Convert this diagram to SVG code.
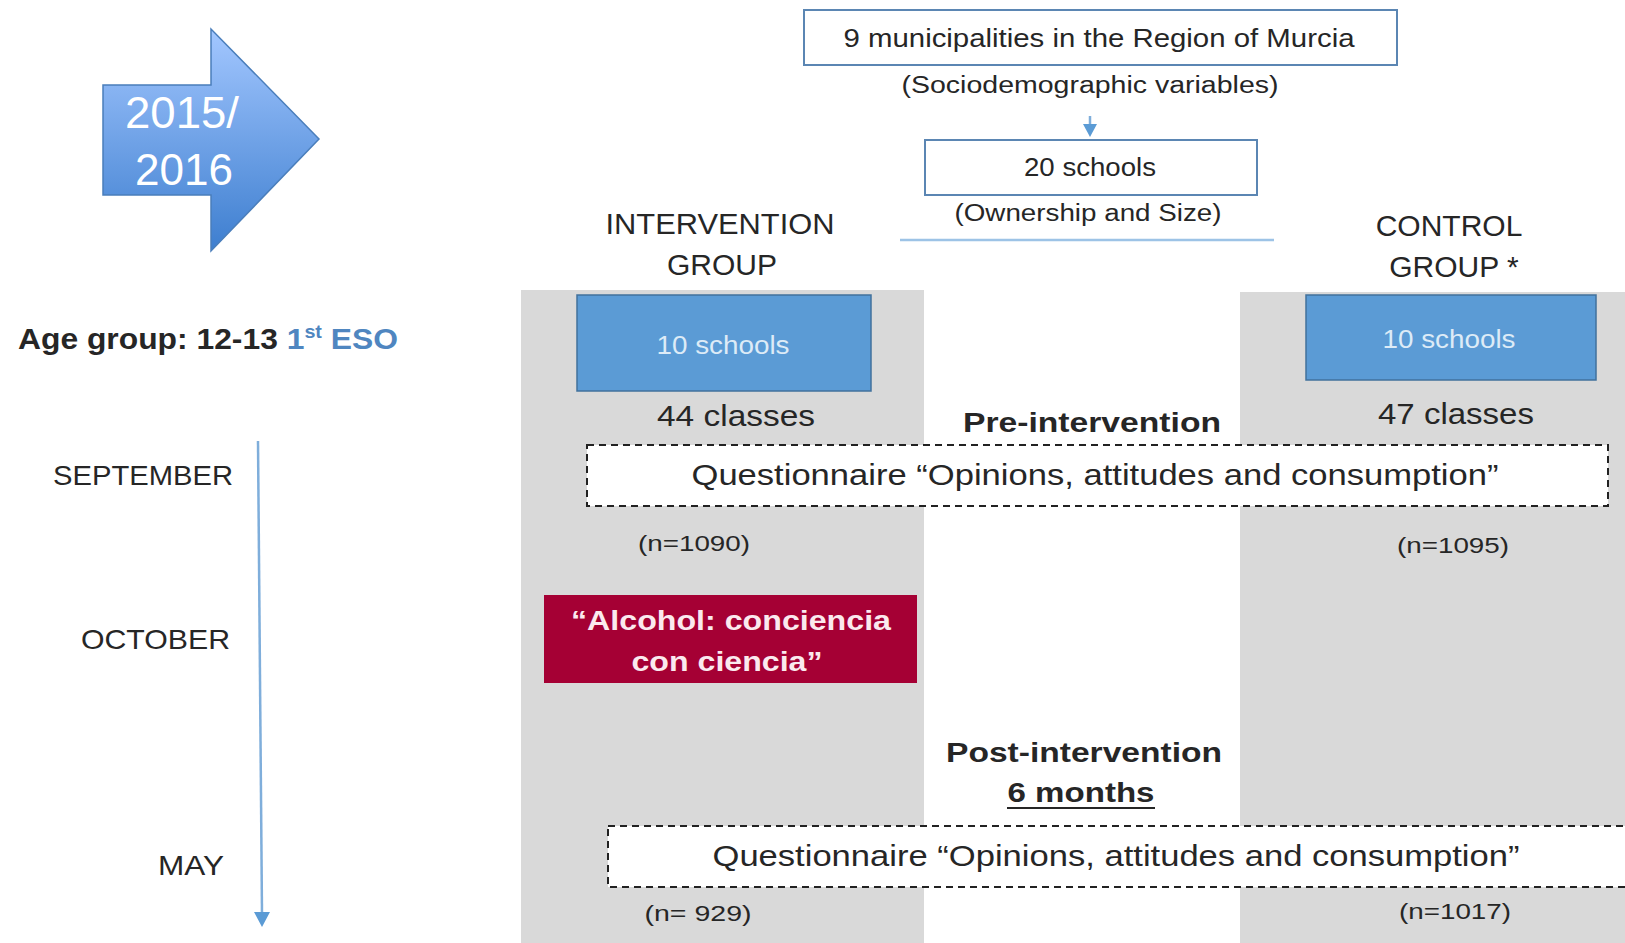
<svg xmlns="http://www.w3.org/2000/svg" width="1625" height="943" viewBox="0 0 1625 943">
<style>
text{font-family:"Liberation Sans",Arial,sans-serif;fill:#262626}
.c{text-anchor:middle}
.b{font-weight:bold}
.blue{fill:#5B9BD5;stroke:#41719C;stroke-width:1.5}
.wb{fill:#fff;stroke:#5B86B3;stroke-width:2}
.dash{fill:#fff;stroke:#222;stroke-width:2;stroke-dasharray:7 5}
.gray{fill:#D9D9D9}
</style>
<defs>
<linearGradient id="ag" x1="0" y1="0" x2="0" y2="1">
<stop offset="0" stop-color="#A3C7FF"/>
<stop offset="1" stop-color="#3D7ECF"/>
</linearGradient>
</defs>
<rect width="1625" height="943" fill="#fff"/>
<g id="columns">
<rect class="gray" x="521" y="290" width="403" height="653"/>
<rect class="gray" x="1240" y="292" width="385" height="651"/>
</g>
<g id="year-arrow">
<path d="M103,85 L211,85 L211,29 L319,139 L211,251 L211,195 L103,195 Z" fill="url(#ag)" stroke="#4A7EBB" stroke-width="1.5"/>
<text class="c" x="182" y="128" font-size="44" style="fill:#fff" textLength="114" lengthAdjust="spacingAndGlyphs">2015/</text>
<text class="c" x="184" y="185" font-size="44" style="fill:#fff" textLength="98" lengthAdjust="spacingAndGlyphs">2016</text>
</g>
<g id="municipalities">
<rect class="wb" x="804" y="10" width="593" height="55"/>
<text class="c" x="1099" y="47" font-size="26" textLength="511" lengthAdjust="spacingAndGlyphs">9 municipalities in the Region of Murcia</text>
<text class="c" x="1090" y="93" font-size="23" textLength="377" lengthAdjust="spacingAndGlyphs">(Sociodemographic variables)</text>
</g>
<g id="schools20">
<rect class="wb" x="925" y="140" width="332" height="55"/>
<text class="c" x="1090" y="176" font-size="25" textLength="132" lengthAdjust="spacingAndGlyphs">20 schools</text>
<text class="c" x="1088" y="221" font-size="23" textLength="267" lengthAdjust="spacingAndGlyphs">(Ownership and Size)</text>
</g>
<g id="connectors">
<line x1="1090" y1="116" x2="1090" y2="126" stroke="#7FAEDB" stroke-width="2.5"/>
<path d="M1083,124 L1097,124 L1090,137 Z" fill="#5B9BD5"/>
<line x1="900" y1="240" x2="1274" y2="240" stroke="#9DC3E6" stroke-width="2.5"/>
<line x1="258" y1="441" x2="262" y2="914" stroke="#7FAEDB" stroke-width="2.5"/>
<path d="M254,912 L270,912 L262,927 Z" fill="#5B9BD5"/>
</g>
<g id="intervention-label">
<text class="c" x="720" y="234" font-size="30" textLength="229" lengthAdjust="spacingAndGlyphs">INTERVENTION</text>
<text class="c" x="722" y="275" font-size="30">GROUP</text>
</g>
<g id="control-label">
<text class="c" x="1449" y="236" font-size="30">CONTROL</text>
<text class="c" x="1454" y="277" font-size="30">GROUP *</text>
</g>
<g id="age-group">
<text x="18" y="349" font-size="29" class="b" textLength="380" lengthAdjust="spacingAndGlyphs">Age group: 12-13 <tspan style="fill:#4F86C0">1<tspan font-size="18" dy="-11">st</tspan><tspan dy="11"> ESO</tspan></tspan></text>
</g>
<g id="intervention-schools">
<rect class="blue" x="577" y="295" width="294" height="96"/>
<text class="c" x="723" y="354" font-size="26" style="fill:#DDEBF7" textLength="133" lengthAdjust="spacingAndGlyphs">10 schools</text>
<text class="c" x="736" y="426" font-size="30" textLength="158" lengthAdjust="spacingAndGlyphs">44 classes</text>
</g>
<g id="control-schools">
<rect class="blue" x="1306" y="295" width="290" height="85"/>
<text class="c" x="1449" y="348" font-size="26" style="fill:#DDEBF7" textLength="133" lengthAdjust="spacingAndGlyphs">10 schools</text>
<text class="c" x="1456" y="424" font-size="30" textLength="156" lengthAdjust="spacingAndGlyphs">47 classes</text>
</g>
<g id="pre-intervention">
<text class="c b" x="1092" y="432" font-size="27" textLength="258" lengthAdjust="spacingAndGlyphs">Pre-intervention</text>
<rect class="dash" x="587" y="445" width="1021" height="61"/>
<text class="c" x="1095" y="485" font-size="30" textLength="807" lengthAdjust="spacingAndGlyphs">Questionnaire “Opinions, attitudes and consumption”</text>
<text class="c" x="694" y="551" font-size="22" textLength="112" lengthAdjust="spacingAndGlyphs">(n=1090)</text>
<text class="c" x="1453" y="553" font-size="22" textLength="112" lengthAdjust="spacingAndGlyphs">(n=1095)</text>
</g>
<g id="program">
<rect x="544" y="595" width="373" height="88" fill="#A50034"/>
<text class="c b" x="731" y="630" font-size="27" style="fill:#FBE9EE" textLength="320" lengthAdjust="spacingAndGlyphs">“Alcohol: conciencia</text>
<text class="c b" x="727" y="671" font-size="27" style="fill:#FBE9EE" textLength="191" lengthAdjust="spacingAndGlyphs">con ciencia”</text>
</g>
<g id="post-intervention">
<text class="c b" x="1084" y="762" font-size="27" textLength="276" lengthAdjust="spacingAndGlyphs">Post-intervention</text>
<text class="c b" x="1081" y="802" font-size="27" textLength="147" lengthAdjust="spacingAndGlyphs">6 months</text>
<line x1="1007" y1="808" x2="1155" y2="808" stroke="#262626" stroke-width="2"/>
<rect class="dash" x="608" y="826" width="1030" height="61"/>
<text class="c" x="1116" y="866" font-size="30" textLength="807" lengthAdjust="spacingAndGlyphs">Questionnaire “Opinions, attitudes and consumption”</text>
<text class="c" x="698" y="921" font-size="22" textLength="107" lengthAdjust="spacingAndGlyphs">(n= 929)</text>
<text class="c" x="1455" y="919" font-size="22" textLength="112" lengthAdjust="spacingAndGlyphs">(n=1017)</text>
</g>
<g id="timeline">
<text x="233" y="485" font-size="28" text-anchor="end" textLength="180" lengthAdjust="spacingAndGlyphs">SEPTEMBER</text>
<text x="230" y="649" font-size="28" text-anchor="end" textLength="149" lengthAdjust="spacingAndGlyphs">OCTOBER</text>
<text x="224" y="875" font-size="28" text-anchor="end" textLength="66" lengthAdjust="spacingAndGlyphs">MAY</text>
</g>
</svg>
